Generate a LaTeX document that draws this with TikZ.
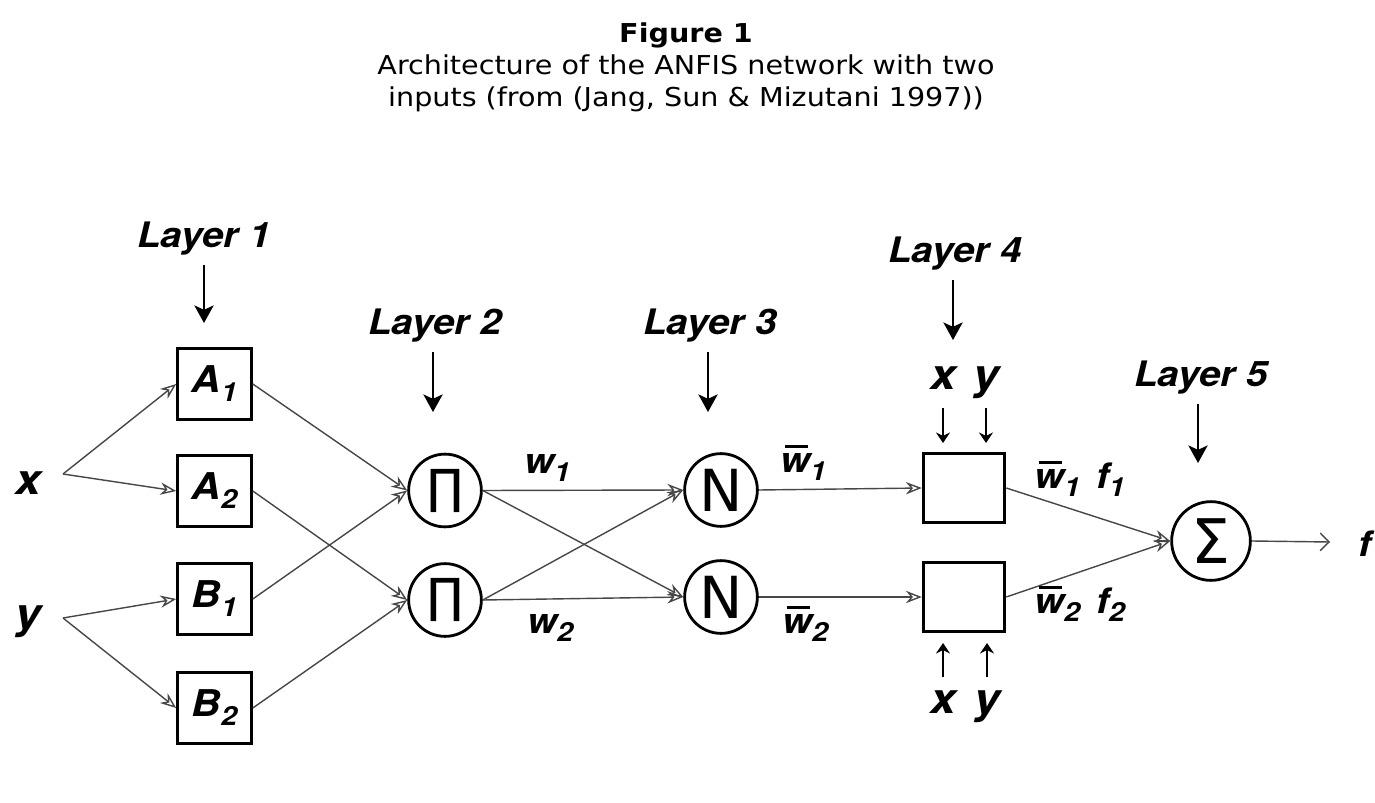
\documentclass[tikz,border=0pt]{standalone}
\usepackage{fontspec}
\setmainfont{DejaVu Sans}[FakeStretch=1.1]
\newfontfamily\opfont{DejaVu Sans}
\newfontfamily\lblfont[FakeStretch=1.1]{TeX Gyre Heros}
\usetikzlibrary{arrows.meta}

\newcommand\lsub[1]{\raisebox{-0.45ex}{\fontsize{15}{15}\selectfont #1}}
\newcommand\wbar{\leavevmode\rlap{\hspace{0.14em}\rule[0.68em]{0.66em}{1.6pt}}w}

\tikzset{
  lbl/.style={font=\lblfont\bfseries\itshape\fontsize{20}{22}\selectfont, inner sep=1pt},
  inlbl/.style={font=\lblfont\bfseries\itshape\fontsize{24}{26}\selectfont, inner sep=1pt},
  mfbox/.style={draw, line width=1.6pt, minimum width=42pt, minimum height=40.3pt, inner sep=0pt,
                font=\lblfont\bfseries\itshape\fontsize{21}{22}\selectfont},
  rulebox/.style={draw, line width=1.6pt, minimum width=46.5pt, minimum height=39.7pt, inner sep=0pt},
  opnode/.style={draw, circle, line width=1.6pt, minimum size=41.4pt, inner sep=0pt,
                 font=\opfont\fontsize{33}{33}\selectfont},
  link/.style={draw=black!72, line width=0.8pt, -{Stealth[open,length=9pt,width=7pt]}},
  down/.style={line width=1.1pt, -{Stealth[length=10pt,width=11pt,inset=2.5pt]}},
  feed/.style={line width=0.8pt, -{Stealth[length=6pt,width=8pt,inset=2pt]}},
  outarr/.style={draw=black!72, line width=0.8pt, -{Straight Barb[length=5pt,width=10pt]}}
}

\begin{document}
\begin{tikzpicture}[x=0.02cm, y=-0.02cm]

 \useasboundingbox (0,0) rectangle (1375,803);

 %caption
 \node[align=center, font=\fontsize{14.8}{18.2}\selectfont] (title) at (686,67)
   {\textbf{Figure 1}\\Architecture of the ANFIS network with two\\ inputs (from (Jang, Sun \& Mizutani 1997))};

 %layer labels and arrows
    \foreach \name/\num/\lx/\ly/\ax/\ay in {lay1/1/204/248/204/323,lay2/2/435/335/433/412,lay3/3/710/335/708/412,lay4/4/955/263/953/340,lay5/5/1201/387/1198/463}{
         \node[lbl, anchor=base] (\name) at (\lx,\ly) {Layer \num};
         \coordinate (\name e) at (\ax,\ay);
         \draw[down, shorten <=4pt] (\name.south -| \name e) -- (\name e);
    }

 %inputs
 \node[inlbl, anchor=base] (xin) at (28,494) {x};
 \node[inlbl, anchor=base] (yin) at (28,628) {y};
 \coordinate (xs) at (63,474);
 \coordinate (ys) at (63,618);

 %layer 1
    \foreach \name/\lt/\k/\ny in {a1/A/1/384,a2/A/2/491,b1/B/1/599,b2/B/2/708}{
         \node[mfbox] (\name) at (214.5,\ny) {\lt\lsub{\k}};
    }
 \draw[link] (xs) -- (a1.west);
 \draw[link] (xs) -- (a2.west);
 \draw[link] (ys) -- (b1.west);
 \draw[link] (ys) -- (b2.west);

 %layer 2 and 3
    \foreach \name/\ny in {p1/490.5,p2/600}{
         \node[opnode, font=\opfont\fontsize{27}{27}\selectfont] (\name) at (445,\ny) {∏};
    }
    \foreach \name/\ny in {n1/490,n2/597}{
         \node[opnode] (\name) at (721,\ny) {N};
    }
 \draw[link] (a1.east) -- (p1.west);
 \draw[link] (b1.east) -- (p1.west);
 \draw[link] (a2.east) -- (p2.west);
 \draw[link] (b2.east) -- (p2.west);
    \foreach \s in {p1,p2}{
       \foreach \t in {n1,n2}{
         \draw[link] (\s.east) -- (\t.west);
       }
    }
 \node[lbl, anchor=base west] (w1) at (522,473) {w\lsub{1}};
 \node[lbl, anchor=base west] (w2) at (525,633) {w\lsub{2}};
 \node[lbl, anchor=base west] (wb1) at (778,472) {\wbar\lsub{1}};
 \node[lbl, anchor=base west] (wb2) at (780,633) {\wbar\lsub{2}};

 %layer 4
    \foreach \name/\ny in {r1/488,r2/597}{
         \node[rulebox] (\name) at (964,\ny) {};
    }
 \draw[link] (n1.east) -- (r1.west);
 \draw[link] (n2.east) -- (r2.west);

    \foreach \name/\v/\vx in {tx/x/943,ty/y/986}{
         \node[inlbl, anchor=base] (\name) at (\vx,390) {\v};
         \draw[feed] (\vx,408) -- (\vx,443);
    }
    \foreach \name/\v/\vx in {bx/x/943,by/y/987}{
         \node[inlbl, anchor=base] (\name) at (\vx,713) {\v};
         \draw[feed] (\vx,677) -- (\vx,643);
    }

 %layer 5
 \node[opnode, minimum size=44.8pt, font=\opfont\fontsize{35}{35}\selectfont] (sum) at (1211,541) {Σ};
 \draw[link] (r1.east) -- (sum.west);
 \draw[link] (r2.east) -- (sum.west);
 \node[lbl, anchor=base west] (f1) at (1032,488) {\wbar\lsub{1}\hspace{0.45em}f\lsub{1}};
 \node[lbl, anchor=base west] (f2) at (1032,613) {\wbar\lsub{2}\hspace{0.45em}f\lsub{2}};

 \coordinate (out) at (1330,542);
 \draw[outarr] (sum.east) -- (out);
 \node[lbl, anchor=base west] (fout) at (1356,556) {f};

\end{tikzpicture}
\end{document}
